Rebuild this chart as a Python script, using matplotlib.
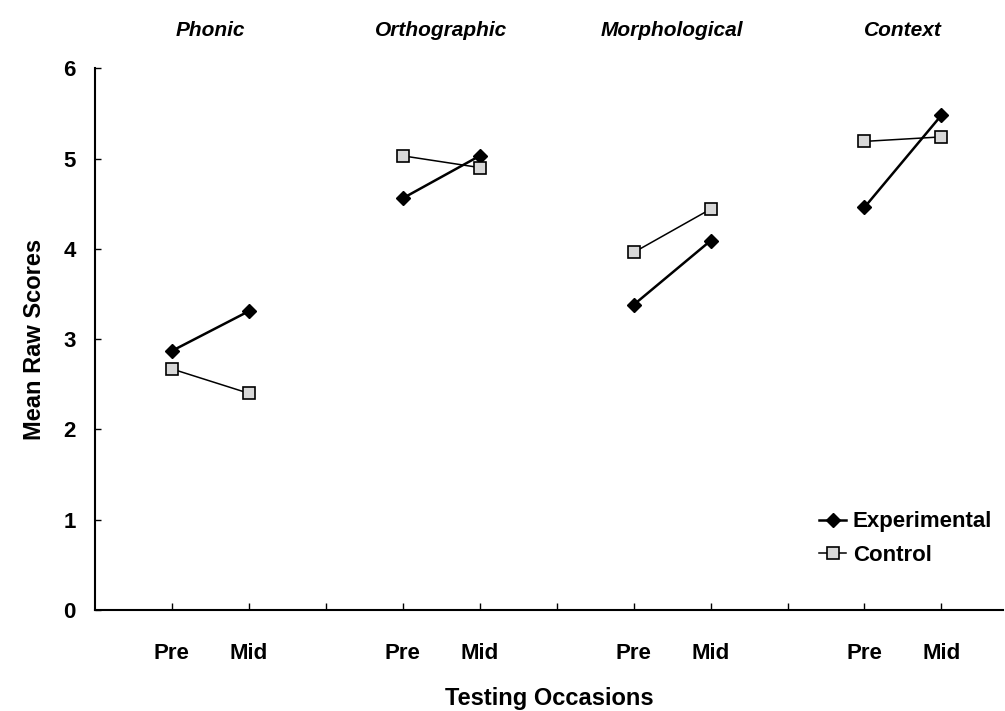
import matplotlib.pyplot as plt
import numpy as np

# Data
domains = ["Phonic", "Orthographic", "Morphological", "Context"]
occasions = ["Pre", "Mid"]
experimental = [[2.87, 3.31], [4.56, 5.03], [3.38, 4.09], [4.46, 5.48]]
control = [[2.67, 2.40], [5.03, 4.90], [3.96, 4.44], [5.19, 5.24]]

plt.rcParams["font.family"] = ["Liberation Sans", "DejaVu Sans"]

fig = plt.figure(figsize=(10.05, 7.11), dpi=100)
ax = fig.add_axes([0.0945, 0.142, 0.9035, 0.762])

# x positions: each domain gets Pre/Mid, then an empty slot
pos = []
for i in range(len(domains)):
    pos.append([3 * i + 1, 3 * i + 2])

for i, name in enumerate(domains):
    ax.plot(pos[i], experimental[i], color="black", linewidth=1.8,
            marker="D", markersize=7, markerfacecolor="black",
            label="Experimental" if i == 0 else None, zorder=3)
    ax.plot(pos[i], control[i], color="black", linewidth=1.1,
            marker="s", markersize=8, markerfacecolor="#d8d8d8",
            markeredgecolor="black", markeredgewidth=1.2,
            label="Control" if i == 0 else None, zorder=3)
    ax.text(np.mean(pos[i]), 1.052, name, transform=ax.get_xaxis_transform(),
            ha="center", va="bottom", fontsize=15, style="italic", fontweight="bold")

# axes styling
ax.set_xlim(0, 11.8)
ax.set_ylim(0, 6)
ax.spines["top"].set_visible(False)
ax.spines["right"].set_visible(False)
ax.spines["left"].set_linewidth(1.5)
ax.spines["bottom"].set_linewidth(1.5)

ticks = list(range(1, 12))
labels = []
for t in ticks:
    if t % 3 == 1:
        labels.append(occasions[0])
    elif t % 3 == 2:
        labels.append(occasions[1])
    else:
        labels.append("")
ax.set_xticks(ticks)
ax.set_xticklabels(labels, fontsize=16, fontweight="bold")
ax.tick_params(axis="x", direction="in", length=5, width=1, pad=24)

ax.set_yticks(range(0, 7))
ax.set_yticklabels([str(v) for v in range(0, 7)], fontsize=16, fontweight="bold")
ax.tick_params(axis="y", direction="in", length=4, width=1, pad=14)

ax.set_xlabel("Testing Occasions", fontsize=17, fontweight="bold", labelpad=16)
ax.set_ylabel("Mean Raw Scores", fontsize=17, fontweight="bold", labelpad=12)

ax.legend(loc="lower right", bbox_to_anchor=(1.01, 0.045), frameon=False,
          prop={"size": 16, "weight": "bold"}, handlelength=1.2,
          handletextpad=0.3, labelspacing=0.55)

plt.savefig("out.png", dpi=100)
